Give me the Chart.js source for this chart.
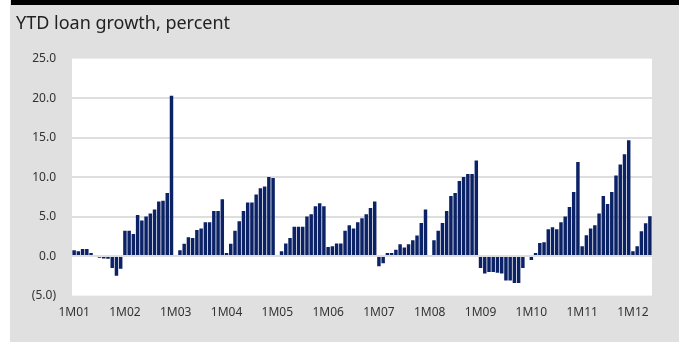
<!DOCTYPE html>
<html>
<head>
<meta charset="utf-8">
<script src="https://cdn.jsdelivr.net/npm/chart.js@4"></script>
<style>
    html, body { margin: 0; padding: 0; background: #fff; }
    #wrap { width: 679px; height: 342px; }
</style>
</head>
<body>
<div id="wrap"><canvas id="loanChart" width="679" height="342"></canvas></div>
<script>
// Year labels shown on the axis (one label every January)
const years = ['01', '02', '03', '04', '05', '06', '07', '08', '09', '10', '11', '12'];

// YTD loan growth, percent, by month
const y2001 = [0.75, 0.6, 0.9, 0.9, 0.4, -0.1, -0.2, -0.3, -0.35, -1.5, -2.5, -1.6];
const y2002 = [3.2, 3.2, 2.8, 5.2, 4.5, 5.0, 5.4, 5.9, 6.9, 7.0, 8.0, 20.3];
const y2003 = [0, 0.75, 1.55, 2.4, 2.3, 3.3, 3.5, 4.3, 4.3, 5.7, 5.7, 7.2];
const y2004 = [0.4, 1.55, 3.2, 4.4, 5.7, 6.8, 6.8, 7.8, 8.6, 8.8, 10.0, 9.9];
const y2005 = [-0.1, 0.6, 1.6, 2.3, 3.7, 3.7, 3.7, 5.0, 5.3, 6.3, 6.7, 6.3];
const y2006 = [1.15, 1.25, 1.6, 1.6, 3.2, 3.9, 3.5, 4.3, 4.8, 5.3, 6.1, 6.9];
const y2007 = [-1.3, -0.9, 0.4, 0.4, 0.8, 1.5, 1.1, 1.5, 2.0, 2.6, 4.2, 5.9];
const y2008 = [0, 2.0, 3.2, 4.2, 5.7, 7.6, 8.0, 9.5, 10.0, 10.4, 10.4, 12.1];
const y2009 = [-1.5, -2.2, -2.0, -2.0, -2.1, -2.2, -3.1, -3.1, -3.4, -3.4, -1.5, -0.1];
const y2010 = [-0.5, 0.4, 1.65, 1.75, 3.4, 3.65, 3.4, 4.3, 5.0, 6.2, 8.1, 11.9];
const y2011 = [1.25, 2.65, 3.5, 3.9, 5.4, 7.6, 6.6, 8.1, 10.2, 11.6, 12.9, 14.65];
const y2012 = [0.6, 1.25, 3.15, 4.15, 5.05];

const yearValues = [y2001, y2002, y2003, y2004, y2005, y2006, y2007, y2008, y2009, y2010, y2011, y2012];

// Build the category list like "1M01", "2M01", ...
const labels = [];
const values = [];
yearValues.forEach((arr, i) => {
    arr.forEach((v, m) => {
        labels.push((m + 1) + 'M' + years[i]);
        values.push(v);
    });
});

// Grey frame, black band on top, white plot area
const backdrop = {
    id: 'backdrop',
    beforeDraw(chart) {
        const { ctx, chartArea: a, width, height } = chart;
        ctx.save();
        ctx.fillStyle = '#ffffff';
        ctx.fillRect(0, 0, width, height);
        ctx.fillStyle = '#e0e0e0';
        ctx.fillRect(10, 0, width - 10, height);
        ctx.fillStyle = '#000000';
        ctx.fillRect(11, 0, width - 11, 5);
        ctx.fillStyle = '#ffffff';
        ctx.fillRect(a.left, a.top, a.right - a.left, a.bottom - a.top);
        ctx.restore();
    }
};

const fontFamily = '"Noto Sans", "Open Sans", sans-serif';

new Chart(document.getElementById('loanChart').getContext('2d'), {
    type: 'bar',
    data: {
        labels: labels,
        datasets: [{
            label: 'YTD loan growth',
            data: values,
            backgroundColor: '#0c2266',
            borderWidth: 0,
            barPercentage: 0.82,
            categoryPercentage: 1.0
        }]
    },
    options: {
        responsive: false,
        animation: false,
        layout: {
            padding: { left: 16, right: 27, top: 5, bottom: 12 }
        },
        scales: {
            x: {
                grid: { display: false, drawTicks: false },
                border: { display: false },
                ticks: {
                    autoSkip: false,
                    maxRotation: 0,
                    padding: 10,
                    color: '#333333',
                    font: { family: fontFamily, size: 12 },
                    callback: function (value, index) {
                        return index % 12 === 0 ? this.getLabelForValue(value) : null;
                    }
                }
            },
            y: {
                min: -5,
                max: 25,
                afterFit: (scale) => { scale.width = 56; },
                border: { display: false },
                grid: {
                    drawTicks: false,
                    lineWidth: 2,
                    color: (ctx) => (ctx.tick && (ctx.tick.value === 25 || ctx.tick.value === -5)) ? 'rgba(0,0,0,0)' : '#dedede'
                },
                ticks: {
                    stepSize: 5,
                    padding: 16,
                    color: '#333333',
                    font: { family: fontFamily, size: 12 },
                    callback: (v) => v < 0 ? '(' + Math.abs(v).toFixed(1) + ')' : v.toFixed(1)
                }
            }
        },
        plugins: {
            legend: { display: false },
            tooltip: { enabled: false },
            title: {
                display: true,
                text: 'YTD loan growth, percent',
                align: 'start',
                color: '#222222',
                font: { family: fontFamily, size: 18, weight: 'normal' },
                padding: { top: 8, bottom: 24 }
            }
        }
    },
    plugins: [backdrop]
});
</script>
</body>
</html>
